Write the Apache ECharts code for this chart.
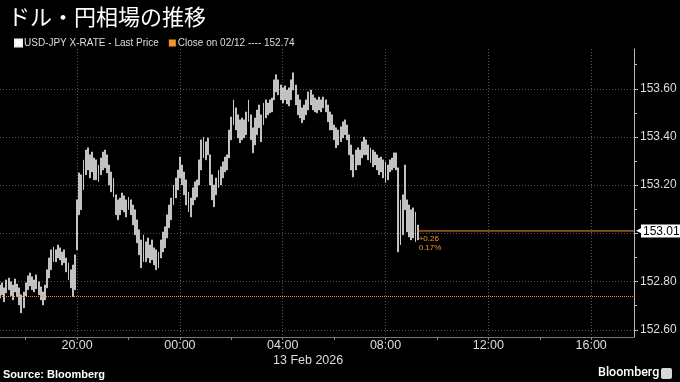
<!DOCTYPE html>
<html>
<head>
<meta charset="utf-8">
<script src="https://cdn.jsdelivr.net/npm/echarts@6/dist/echarts.min.js"></script>
<style>
html,body{margin:0;padding:0;background:#000;}
#c{width:680px;height:382px;}
</style>
</head>
<body>
<div id="c"></div>
<script>
// ---- data (5-minute bars, 12 Feb 17:00 onward) ----
const startHour = 17;          // first category 17:00 (12 Feb)
const stepMinutes = 5;
const slotCount = 297;         // axis runs to 17:40 (13 Feb)

const highs = [
152.786,152.795,152.774,152.807,152.815,152.799,152.786,152.811,152.790,152.774,
152.745,152.757,152.795,152.824,152.836,152.820,152.807,152.828,152.799,152.778,
152.757,152.786,152.849,152.898,152.932,152.944,152.932,152.952,152.940,152.923,
152.932,152.898,152.878,152.849,152.869,152.911,153.139,153.251,153.243,153.305,
153.346,153.355,153.326,153.338,153.313,153.305,153.284,153.313,153.338,153.346,
153.326,153.284,153.255,153.230,153.160,153.139,153.147,153.168,153.156,153.139,
153.151,153.139,153.118,153.098,153.056,153.015,152.973,152.994,152.965,152.981,
152.952,152.973,152.940,152.932,152.923,152.973,153.006,153.027,153.077,153.118,
153.147,153.201,153.230,153.263,153.317,153.284,153.255,153.222,153.172,153.147,
153.189,153.214,153.222,153.305,153.388,153.400,153.380,153.396,153.326,153.243,
153.201,153.230,153.263,153.276,153.297,153.317,153.326,153.429,153.483,153.554,
153.521,153.492,153.471,153.479,153.471,153.504,153.554,153.492,153.438,153.479,
153.512,153.533,153.492,153.541,153.554,153.541,153.554,153.562,153.637,153.658,
153.637,153.616,153.604,153.612,153.595,153.604,153.637,153.666,153.616,153.575,
153.554,153.521,153.533,153.554,153.587,153.595,153.575,153.562,153.554,153.566,
153.554,153.566,153.554,153.533,153.504,153.492,153.450,153.438,153.429,153.442,
153.463,153.471,153.450,153.409,153.367,153.326,153.346,153.355,153.346,153.380,
153.400,153.388,153.367,153.355,153.346,153.338,153.326,153.313,153.317,153.305,
153.297,153.284,153.305,153.313,153.334,153.334,153.272,153.139,153.160,153.284,
153.139,153.118,153.098,153.106,153.089,153.035
];
const lows = [
152.732,152.745,152.716,152.753,152.766,152.741,152.724,152.757,152.737,152.703,
152.670,152.691,152.741,152.766,152.782,152.766,152.757,152.770,152.745,152.724,
152.703,152.724,152.774,152.815,152.849,152.882,152.882,152.898,152.890,152.869,
152.878,152.840,152.807,152.774,152.737,152.766,152.932,153.077,153.098,153.180,
153.243,153.263,153.230,153.255,153.222,153.222,153.214,153.243,153.263,153.272,
153.251,153.201,153.172,153.151,153.077,153.056,153.077,153.098,153.089,153.068,
153.098,153.077,153.035,152.994,152.961,152.911,152.857,152.882,152.882,152.898,
152.878,152.890,152.869,152.849,152.857,152.898,152.923,152.940,152.981,153.023,
153.056,153.118,153.147,153.180,153.230,153.201,153.160,153.118,153.089,153.068,
153.118,153.139,153.151,153.201,153.263,153.313,153.305,153.326,153.201,153.139,
153.110,153.160,153.189,153.201,153.230,153.255,153.263,153.313,153.388,153.450,
153.429,153.396,153.376,153.388,153.396,153.409,153.463,153.388,153.334,153.367,
153.409,153.438,153.380,153.450,153.479,153.492,153.500,153.504,153.554,153.587,
153.575,153.554,153.541,153.554,153.537,153.529,153.554,153.595,153.533,153.492,
153.479,153.459,153.471,153.492,153.512,153.533,153.512,153.504,153.500,153.512,
153.504,153.521,153.504,153.463,153.429,153.429,153.388,153.355,153.367,153.380,
153.396,153.409,153.388,153.326,153.263,153.234,153.263,153.284,153.284,153.313,
153.326,153.326,153.305,153.293,153.276,153.284,153.263,153.243,153.255,153.230,
153.210,153.222,153.255,153.263,153.272,153.263,152.923,152.952,152.994,153.098,
153.006,152.985,152.973,152.981,152.965,152.973
];
const lastClose = 153.01;
const prevClose = 152.74;
const changeText = '+0.26';
const changePctText = '0.17%';

const yLabelValues = [152.6, 152.8, 153.2, 153.4, 153.6];
const yGridValues = [152.6, 152.8, 153.0, 153.2, 153.4, 153.6];
const yMinorValues = [152.7, 152.9, 153.1, 153.3, 153.5, 153.7];

const seriesName = 'USD-JPY X-RATE - Last Price';
const closeName = 'Close on 02/12 ---- 152.74';
const dateText = '13 Feb 2026';

// ---- build ----
function pad(n){ return (n < 10 ? '0' : '') + n; }
const categories = [];
for (let i = 0; i < slotCount; i++) {
  const m = startHour * 60 + i * stepMinutes;
  const day = m >= 24 * 60 ? '13 ' : '12 ';
  categories.push(day + pad(Math.floor(m / 60) % 24) + ':' + pad(m % 60));
}
const candleData = highs.map((h, i) => [lows[i], h, lows[i], h]);
const lastIdx = highs.length - 1;

function hm(v){ return v.slice(3); }
function isHour(v, mod){ const t = hm(v); return t.slice(3) === '00' && (+t.slice(0, 2)) % mod === 0; }

const FONT = 'Liberation Sans, Arial, sans-serif';
const ORANGE = '#f0962a';
const BAR = '#f2f2f2';

const chart = echarts.init(document.getElementById('c'), null, {renderer: 'canvas'});
chart.setOption({
  backgroundColor: '#000',
  animation: false,
  textStyle: {fontFamily: FONT},
  title: {
    text: 'ドル・円相場の推移',
    left: 3, top: 1,
    textStyle: {color: '#fff', fontSize: 22, fontWeight: 'normal', fontFamily: 'Noto Sans CJK JP'}
  },
  legend: {
    left: 9, top: 33,
    itemWidth: 7, itemHeight: 7, itemGap: 10,
    textStyle: {color: '#ddd', fontSize: 10, fontFamily: FONT, padding: [0, 0, 0, -3]},
    data: [
      {name: seriesName, icon: 'rect', itemStyle: {color: '#fff'}},
      {name: closeName, icon: 'rect', itemStyle: {color: ORANGE}}
    ]
  },
  grid: {left: 0, right: 46, top: 49, bottom: 45},
  xAxis: {
    type: 'category',
    data: categories,
    boundaryGap: false,
    axisLine: {show: true, lineStyle: {color: '#777', width: 1}},
    axisTick: {show: true, length: 3, interval: (i, v) => isHour(v, 2), lineStyle: {color: '#888'}},
    axisLabel: {
      show: true, interval: (i, v) => isHour(v, 4), formatter: v => hm(v),
      color: '#ddd', fontSize: 12.5, margin: 2, fontFamily: FONT
    },
    splitLine: {show: true, interval: (i, v) => isHour(v, 4), lineStyle: {color: '#555', type: [1, 2], width: 1}}
  },
  yAxis: [{
    type: 'value',
    position: 'right',
    min: 152.57, max: 153.765,
    axisLine: {show: true, lineStyle: {color: '#bbb', width: 1}},
    axisTick: {show: true, length: 4, customValues: yGridValues, lineStyle: {color: '#bbb'}},
    axisLabel: {show: true, customValues: yLabelValues, color: '#ddd', fontSize: 12, margin: 6,
      formatter: v => v.toFixed(2), fontFamily: FONT},
    splitLine: {show: true, lineStyle: {color: '#555', type: [1, 2], width: 1}}
  }, {
    type: 'value',
    position: 'right',
    min: 152.57, max: 153.765,
    axisLine: {show: false},
    axisTick: {show: true, length: 3, customValues: yMinorValues, lineStyle: {color: '#bbb'}},
    axisLabel: {show: false},
    splitLine: {show: false}
  }],
  graphic: [
    {type: 'text', left: 273, top: 354, style: {text: dateText, fill: '#ddd', font: '12.5px ' + FONT}},
    {type: 'text', left: 3, top: 369, style: {text: 'Source: Bloomberg', fill: '#fff', font: 'bold 11px ' + FONT}},
    {type: 'text', left: 598, top: 366, style: {text: 'Bloomberg', fill: '#fff', font: '500 12.5px Roboto, ' + FONT}},
    {type: 'rect', left: 661, top: 368, shape: {width: 11, height: 11, r: 2}, style: {fill: '#d8d8d8'}}
  ],
  series: [{
    name: seriesName,
    type: 'candlestick',
    data: candleData,
    barWidth: 1.4,
    itemStyle: {color: BAR, color0: BAR, borderColor: BAR, borderColor0: BAR, borderWidth: 0.6}
  }, {
    name: closeName,
    type: 'line',
    data: [],
    itemStyle: {color: ORANGE},
    lineStyle: {color: ORANGE},
    markLine: {
      silent: true,
      symbol: ['none', 'none'],
      label: {show: false},
      lineStyle: {color: ORANGE, type: [1, 1], width: 1},
      data: [{yAxis: prevClose}]
    }
  }, {
    name: 'last',
    type: 'line',
    silent: true,
    symbol: 'circle',
    symbolSize: 0,
    showSymbol: true,
    itemStyle: {color: ORANGE},
    lineStyle: {color: ORANGE, width: 1},
    z: 3,
    data: [
      {value: [lastIdx, lastClose],
       label: {show: true, position: [1, 3], align: 'left', verticalAlign: 'top',
         formatter: changeText + '\n' + changePctText, color: ORANGE, fontSize: 8, lineHeight: 9, fontFamily: FONT}},
      {value: [slotCount - 1, lastClose],
       label: {show: true, position: [2, 0], align: 'left', verticalAlign: 'middle',
         formatter: '{a|◀}{b|' + lastClose.toFixed(2) + '}',
         rich: {
           a: {color: '#fff', fontSize: 9, padding: [0, -2, 0, 0]},
           b: {color: '#000', backgroundColor: '#fff', fontSize: 12, padding: [1, 2, 0, 2], fontFamily: FONT}
         }}}
    ]
  }]
});
</script>
</body>
</html>
